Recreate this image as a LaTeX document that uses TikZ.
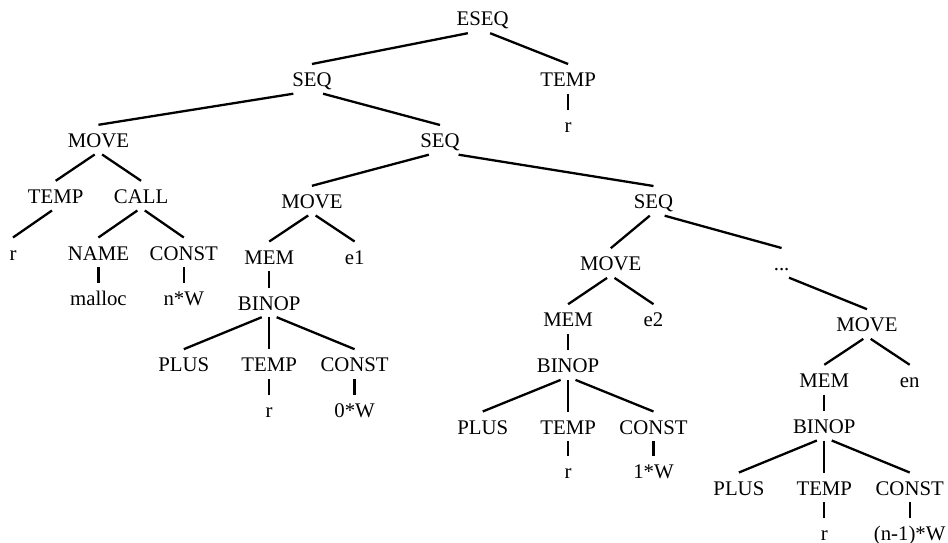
\documentclass[tikz,border=0pt]{standalone}
\usepackage{fontspec}
\setmainfont{Liberation Serif}
\usetikzlibrary{calc}
\begin{document}
\begin{tikzpicture}[x=1pt,y=1pt,
  lbl/.style={anchor=base,inner xsep=0pt,inner ysep=7pt,text height=15.3pt,text depth=0pt,
    font=\fontsize{20.8}{24}\selectfont},
  edge/.style={line width=2.3pt,black}]
\useasboundingbox (0,0) rectangle (948,-543);
\fill[white] (0,0) rectangle (948,-543);
\def\dotstxt{.{}.{}.}
\foreach \n/\k/\b/\t in {
  eseq/11/26/ESEQ, seqa/7/86.5/SEQ, tempa/13/86.5/TEMP, ra/13/132/r,
  movea/2/147.3/MOVE, seqb/10/147.5/SEQ, tempb/1/203.3/TEMP, call/3/203.3/CALL,
  moveb/7/208.3/MOVE, seqc/15/208.5/SEQ, rb/0/260/r, name/2/260/NAME, consta/4/260/CONST,
  mema/6/264/MEM, ea/8/264/e1, movec/14/270.7/MOVE, dots/18/270.5/\dotstxt,
  malloc/2/305/malloc, nw/4/305/n*W, binopa/6/310/BINOP,
  memb/13/326.7/MEM, eb/15/326.7/e2, moved/20/331.7/MOVE,
  plusa/4/371.7/PLUS, tempc/6/371.7/TEMP, constb/8/371.7/CONST, binopb/13/372.7/BINOP,
  memc/19/387.3/MEM, en/21/387.3/en, rc/6/417.3/r, zw/8/417.3/0*W,
  plusb/11/434/PLUS, tempd/13/434/TEMP, constc/15/434/CONST, binopc/19/433.3/BINOP,
  rd/13/478.3/r, ow/15/478.3/1*W,
  plusc/17/495/PLUS, tempe/19/495/TEMP, constd/21/495/CONST,
  re/19/540/r, nmw/21/540/(n-1)*W}
  \node[lbl] (\n) at ({13+42.7*\k},-\b) {\t};
\foreach \a/\c in {
  eseq/seqa, eseq/tempa, tempa/ra,
  seqa/movea, seqa/seqb, movea/tempb, movea/call, tempb/rb, call/name, call/consta,
  name/malloc, consta/nw,
  seqb/moveb, seqb/seqc, moveb/mema, moveb/ea, mema/binopa,
  binopa/plusa, binopa/tempc, binopa/constb, tempc/rc, constb/zw,
  seqc/movec, seqc/dots, movec/memb, movec/eb, memb/binopb,
  binopb/plusb, binopb/tempd, binopb/constc, tempd/rd, constc/ow,
  dots/moved, moved/memc, moved/en, memc/binopc,
  binopc/plusc, binopc/tempe, binopc/constd, tempe/re, constd/nmw}
  \draw[edge] let \p1=(\a), \p2=(\c) in ($(\a.south)+({0.087*(\x2-\x1)},0)$) -- (\c.north);
\end{tikzpicture}
\end{document}
